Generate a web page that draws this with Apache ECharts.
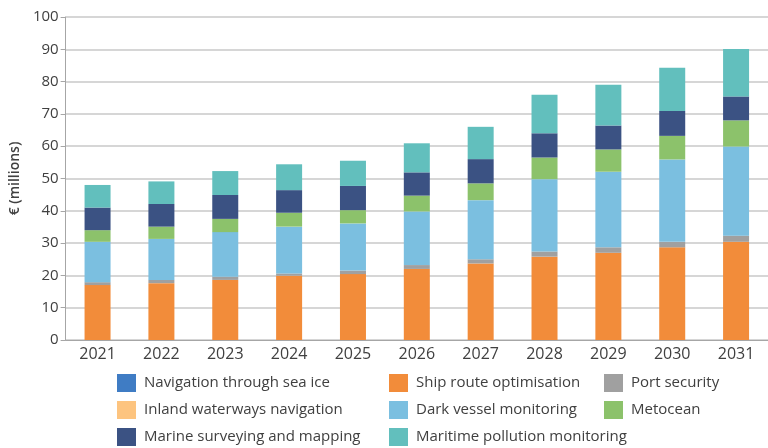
<!DOCTYPE html>
<html>
<head>
<meta charset="utf-8">
<style>
  html, body { margin: 0; padding: 0; background: #fff; }
  #chart { width: 768px; height: 448px; }
</style>
<script src="https://cdn.jsdelivr.net/npm/echarts@6/dist/echarts.min.js"></script>
</head>
<body>
<div id="chart"></div>
<script>
// 年別・用途別の市場規模（€ 百万）
const years = ['2021', '2022', '2023', '2024', '2025', '2026', '2027', '2028', '2029', '2030', '2031'];

const seaIce     = [0, 0, 0, 0, 0, 0, 0, 0, 0, 0, 0];
const shipRoute  = [17.0, 17.6, 18.6, 19.9, 20.4, 22.0, 23.7, 25.8, 27.0, 28.7, 30.4];
const portSec    = [0.9, 1.0, 1.0, 0.7, 1.1, 1.2, 1.3, 1.6, 1.7, 1.7, 1.9];
const inland     = [0, 0, 0, 0, 0, 0, 0, 0, 0, 0, 0];
const darkVessel = [12.5, 12.7, 13.8, 14.5, 14.6, 16.6, 18.3, 22.4, 23.4, 25.5, 27.6];
const metocean   = [3.6, 3.8, 4.1, 4.3, 4.1, 4.9, 5.2, 6.7, 6.9, 7.3, 8.1];
const surveying  = [7.0, 7.0, 7.4, 7.0, 7.5, 7.2, 7.5, 7.5, 7.4, 7.7, 7.4];
const pollution  = [7.0, 7.0, 7.4, 8.0, 7.8, 9.0, 10.0, 11.9, 12.6, 13.4, 14.7];

const yTicks = [0, 10, 20, 30, 40, 50, 60, 70, 80, 90, 100];

const TEXT = '#404040';
const FONT = '"Open Sans", "Noto Sans", sans-serif';

// 描画順（下から積み上げ）
const seriesDefs = [
  { name: 'Navigation through sea ice', data: seaIce, color: '#3F7CC4' },
  { name: 'Ship route optimisation', data: shipRoute, color: '#F28C3A' },
  { name: 'Inland waterways navigation', data: inland, color: '#FDC47F' },
  { name: 'Port security', data: portSec, color: '#A0A0A0' },
  { name: 'Dark vessel monitoring', data: darkVessel, color: '#7BBFE0' },
  { name: 'Metocean', data: metocean, color: '#8CC26B' },
  { name: 'Marine surveying and mapping', data: surveying, color: '#3B5283' },
  { name: 'Maritime pollution monitoring', data: pollution, color: '#62BFBD' },
];

// 凡例は3列に分けて配置
const legendCols = [
  { left: 117, names: ['Navigation through sea ice', 'Inland waterways navigation', 'Marine surveying and mapping'] },
  { left: 389, names: ['Ship route optimisation', 'Dark vessel monitoring', 'Maritime pollution monitoring'] },
  { left: 604, names: ['Port security', 'Metocean'] },
];

const chart = echarts.init(document.getElementById('chart'), null, { renderer: 'canvas' });

chart.setOption({
  backgroundColor: '#fff',
  animation: false,
  textStyle: { fontFamily: FONT },
  grid: { left: 63, right: -10, top: 17, bottom: 108 },
  legend: legendCols.map((col) => ({
    orient: 'vertical',
    left: col.left,
    top: 374,
    height: 80,
    padding: 0,
    itemWidth: 19,
    itemHeight: 18,
    itemGap: 9,
    icon: 'rect',
    data: col.names,
    textStyle: { color: TEXT, fontSize: 15, fontFamily: FONT, padding: [0, 0, 0, 3] },
  })),
  xAxis: {
    type: 'category',
    data: years,
    axisLine: { lineStyle: { color: '#A6A6A6' } },
    axisTick: { show: false },
    axisLabel: { color: TEXT, fontSize: 16, margin: 6 },
  },
  yAxis: {
    type: 'value',
    min: yTicks[0],
    max: yTicks[yTicks.length - 1],
    interval: 10,
    name: '€ (millions)',
    nameLocation: 'middle',
    nameGap: 14,
    nameTextStyle: { color: TEXT, fontSize: 14, fontWeight: 600 },
    axisLine: { show: true, lineStyle: { color: '#A6A6A6' } },
    axisTick: { show: true, length: 5, lineStyle: { color: '#A6A6A6' } },
    axisLabel: { color: TEXT, fontSize: 15, margin: 7 },
    splitLine: { lineStyle: { color: '#C8C8C8', width: 1.5 } },
  },
  series: seriesDefs.map((s) => ({
    name: s.name,
    type: 'bar',
    stack: 'total',
    data: s.data,
    barWidth: 26,
    itemStyle: { color: s.color },
  })),
});
</script>
</body>
</html>
